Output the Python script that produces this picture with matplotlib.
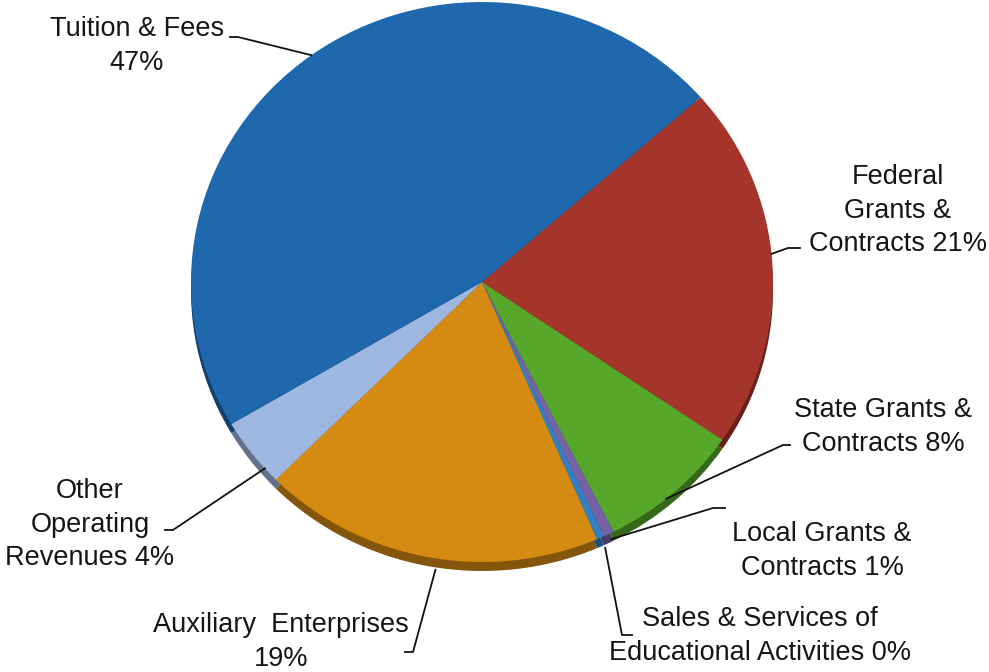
import matplotlib.pyplot as plt
import numpy as np
from matplotlib.lines import Line2D

plt.rcParams["font.family"] = ["Liberation Sans", "DejaVu Sans"]

# revenue shares, clockwise from the Tuition/Federal boundary
CATEGORIES = [
    "Federal Grants & Contracts",
    "State Grants & Contracts",
    "Local Grants & Contracts",
    "Sales & Services of Educational Activities",
    "Auxiliary Enterprises",
    "Other Operating Revenues",
    "Tuition & Fees",
]
SHARES = [21.0, 8.0, 0.6, 0.4, 19.0, 4.0, 47.0]
LABELS = [
    "Federal\nGrants &\nContracts 21%",
    "State Grants &\nContracts 8%",
    "Local Grants &\nContracts 1%",
    "Sales & Services of\nEducational Activities 0%",
    "Auxiliary  Enterprises\n19%",
    "Other\nOperating\nRevenues 4%",
    "Tuition & Fees\n47%",
]
COLORS = ["#a5352b", "#57a72a", "#7562a4", "#2f80c4", "#d58a11", "#9db7e1", "#2068ad"]

W, H = 989, 672
CX, CY = 482, 282  # pie centre in pixels (from top)
RX, RY = 291, 280  # slightly flattened pie
DEPTH = 9

# label anchor (centre x, top of first line) and leader path from label side
LABEL_POS = [(898, 164), (883, 397), (822, 521), (760, 606), (281, 612), (90, 478), (137, 16)]
LEADER_STUB = [
    [(800, 248), (788, 248)],
    [(790, 445), (783, 445)],
    [(725, 508), (713, 508)],
    [(632, 635), (622, 635)],
    [(405, 652), (413, 652)],
    [(165, 530), (173, 530)],
    [(230, 37), (238, 37)],
]
# where along each wedge (0 = first edge, 1 = second) the leader touches
ATTACH = [0.47, 0.57, 0.5, 0.5, 0.47, 0.22, 0.5]
ATTACH_R = [1.0, 1.0, 1.02, 1.04, 1.04, 1.0, 1.0]

fig = plt.figure(figsize=(W / 100, H / 100), dpi=100)
fig.patch.set_facecolor("white")

d = DEPTH / RY
ax_h = RY * (2 + d)
ax_pie = fig.add_axes([(CX - RX) / W, (H - (CY - RY) - ax_h) / H, 2 * RX / W, ax_h / H])


def darker(c, f=0.62):
    r, g, b = plt.matplotlib.colors.to_rgb(c)
    return (r * f, g * f, b * f)


# side of the disc, peeking out underneath
ax_pie.pie(SHARES, colors=[darker(c) for c in COLORS], startangle=41.3,
           counterclock=False, radius=1, center=(0, -d),
           wedgeprops=dict(linewidth=0))
wedges, _ = ax_pie.pie(SHARES, colors=COLORS, startangle=41.3,
                       counterclock=False, radius=1, center=(0, 0),
                       wedgeprops=dict(linewidth=0))
ax_pie.set_aspect("auto")
ax_pie.set_xlim(-1, 1)
ax_pie.set_ylim(-1 - d, 1)
ax_pie.axis("off")

ax_txt = fig.add_axes([0, 0, 1, 1], zorder=3)
ax_txt.set_xlim(0, W)
ax_txt.set_ylim(H, 0)
ax_txt.axis("off")
ax_txt.patch.set_alpha(0)

for i, w in enumerate(wedges):
    t1, t2 = w.theta1, w.theta2
    # counterclock=False -> wedge runs from theta2 down to theta1
    ang = np.deg2rad(t2 - ATTACH[i] * (t2 - t1))
    px, py = ax_pie.transData.transform((ATTACH_R[i] * np.cos(ang), ATTACH_R[i] * np.sin(ang)))
    py = H - py
    xs = [p[0] for p in LEADER_STUB[i]] + [px]
    ys = [p[1] for p in LEADER_STUB[i]] + [py]
    ax_txt.add_line(Line2D(xs, ys, color="#111111", lw=1.3))
    lx, ly = LABEL_POS[i]
    ax_txt.text(lx, ly, LABELS[i], ha="center", va="top", fontsize=19.5,
                color="#151515", linespacing=1.38, multialignment="center")

fig.savefig("out.png", dpi=100, facecolor="white")
